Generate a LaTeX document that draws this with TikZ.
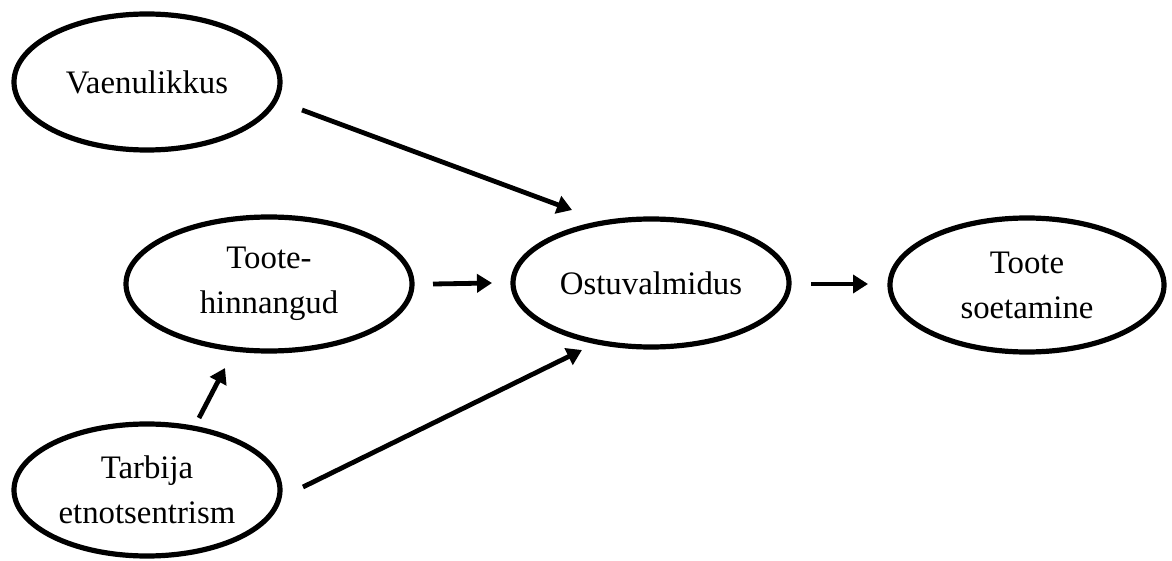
\documentclass[tikz,border=0pt]{standalone}
\usepackage{fontspec}
\setmainfont{Liberation Serif}
\usetikzlibrary{shapes.geometric,arrows.meta,calc}
\begin{document}
\begin{tikzpicture}[x=0.5pt,y=-0.5pt,
  oval/.style={draw=black, line width=2.6pt, ellipse, inner sep=0pt, align=center,
    font=\fontsize{16.4}{22.5}\selectfont},
  conn/.style={line width=2.4pt, -{Triangle[length=7.5pt,width=9pt]}}]
\useasboundingbox (0,0) rectangle (1172,561);
\node[oval, minimum width=266pt/2, minimum height=136pt/2] (v) at (147,82) {Vaenulikkus};
\node[oval, minimum width=286pt/2, minimum height=134pt/2] (h) at (269,284) {Toote-\\hinnangud};
\node[oval, minimum width=276pt/2, minimum height=128pt/2] (o) at (651,283) {Ostuvalmidus};
\node[oval, minimum width=274pt/2, minimum height=134pt/2] (s) at (1027,285) {Toote\\soetamine};
\node[oval, minimum width=266pt/2, minimum height=132pt/2] (t) at (147,490) {Tarbija\\etnotsentrism};
% connector ends, placed relative to the nodes
\coordinate (vo1) at ($(v)+(155,28)$);
\coordinate (vo2) at ($(o)+(-79,-73)$);
\coordinate (ho1) at ($(h)+(164,0)$);
\coordinate (ho2) at ($(o)+(-159,0)$);
\coordinate (os1) at ($(o)+(160,1)$);
\coordinate (os2) at ($(s)+(-159,-1)$);
\coordinate (th1) at ($(t)+(52,-72)$);
\coordinate (th2) at ($(h)+(-44,84)$);
\coordinate (to1) at ($(t)+(156,-3)$);
\coordinate (to2) at ($(o)+(-69,67)$);
\draw[conn] (vo1) -- (vo2);
\draw[conn] (ho1) -- (ho2);
\draw[conn] (os1) -- (os2);
\draw[conn] (th1) -- (th2);
\draw[conn] (to1) -- (to2);
\end{tikzpicture}
\end{document}
